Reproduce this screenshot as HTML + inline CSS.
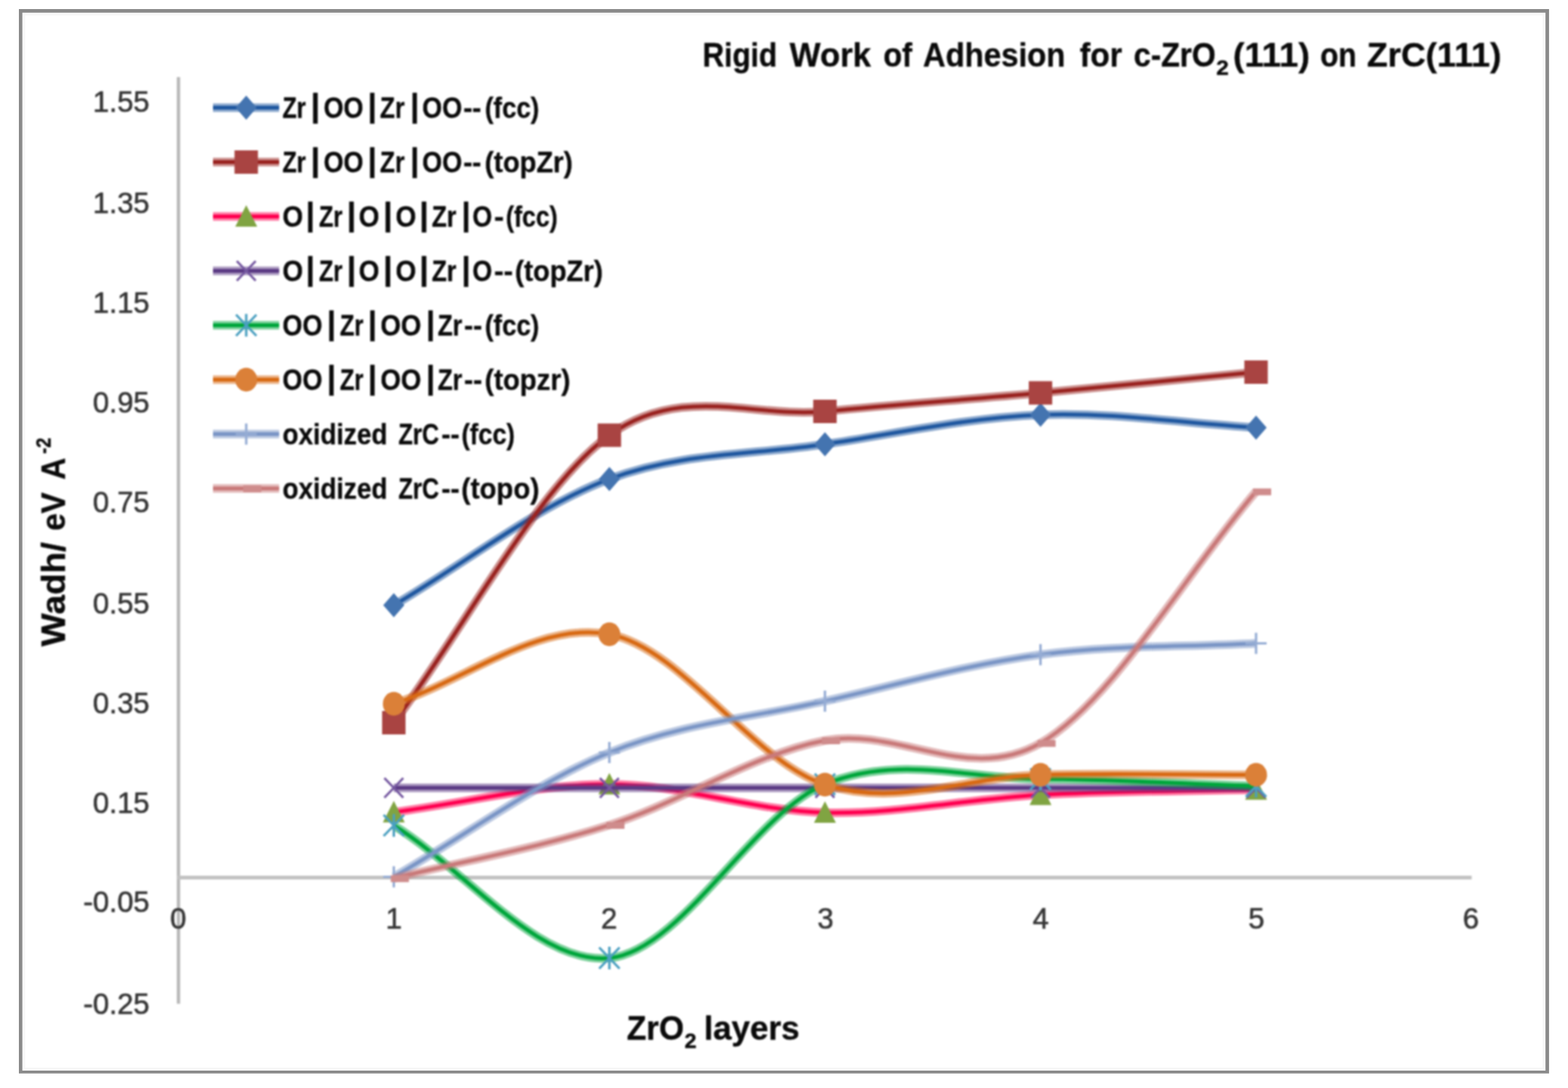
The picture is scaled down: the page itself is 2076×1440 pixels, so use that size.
<!DOCTYPE html>
<html lang="en"><head><meta charset="utf-8"><title>Rigid Work of Adhesion for c-ZrO2(111) on ZrC(111)</title>
<style>
html,body{margin:0;padding:0;background:#fff;}
body{width:2076px;height:1440px;overflow:hidden;}
svg{display:block;}
text{font-family:"Liberation Sans",sans-serif;}
.b{font-weight:bold;fill:#0a0a0a;stroke:#0a0a0a;stroke-width:0.4px;stroke-linejoin:round;}
.t{fill:#363636;stroke:#363636;stroke-width:0.7px;}
</style></head><body>
<svg width="2076" height="1440" viewBox="0 0 2076 1440" role="img" aria-label="Rigid Work of Adhesion for c-ZrO2(111) on ZrC(111)">
<defs><filter id="soft" x="0" y="0" width="100%" height="100%" filterUnits="userSpaceOnUse" color-interpolation-filters="sRGB"><feGaussianBlur stdDeviation="1.2"/></filter><filter id="soft2" x="0" y="0" width="100%" height="100%" filterUnits="userSpaceOnUse" color-interpolation-filters="sRGB"><feGaussianBlur stdDeviation="0.45"/></filter></defs>
<rect x="0" y="0" width="2076" height="1440" fill="#fff"/>
<g filter="url(#soft)">
<rect x="0" y="0" width="2076" height="1440" fill="#fff"/>
<line x1="236.3" y1="102" x2="236.3" y2="1328.5" stroke="#b8b8b8" stroke-width="4.4"/>
<line x1="234" y1="1161.5" x2="1948.5" y2="1161.5" stroke="#c2c2c2" stroke-width="5"/>
<text class="t" x="198" y="148.0" font-size="38.5" text-anchor="end">1.55</text>
<text class="t" x="198" y="282.3" font-size="38.5" text-anchor="end">1.35</text>
<text class="t" x="198" y="414.0" font-size="38.5" text-anchor="end">1.15</text>
<text class="t" x="198" y="546.2" font-size="38.5" text-anchor="end">0.95</text>
<text class="t" x="198" y="677.7" font-size="38.5" text-anchor="end">0.75</text>
<text class="t" x="198" y="811.6" font-size="38.5" text-anchor="end">0.55</text>
<text class="t" x="198" y="943.8" font-size="38.5" text-anchor="end">0.35</text>
<text class="t" x="198" y="1075.7" font-size="38.5" text-anchor="end">0.15</text>
<text class="t" x="198" y="1206.7" font-size="38.5" text-anchor="end">-0.05</text>
<text class="t" x="198" y="1341.5" font-size="38.5" text-anchor="end">-0.25</text>
<text class="t" x="236.0" y="1228.6" font-size="38.5" text-anchor="middle">0</text>
<text class="t" x="521.5" y="1228.6" font-size="38.5" text-anchor="middle">1</text>
<text class="t" x="806.5" y="1228.6" font-size="38.5" text-anchor="middle">2</text>
<text class="t" x="1093.0" y="1228.6" font-size="38.5" text-anchor="middle">3</text>
<text class="t" x="1378.0" y="1228.6" font-size="38.5" text-anchor="middle">4</text>
<text class="t" x="1663.5" y="1228.6" font-size="38.5" text-anchor="middle">5</text>
<text class="t" x="1947.5" y="1228.6" font-size="38.5" text-anchor="middle">6</text>
<path d="M521.4,801.0 C616.5,745.3 711.7,669.5 806.8,634.0 C901.9,598.5 997.1,602.2 1092.2,588.0 C1187.3,573.8 1282.5,552.7 1377.6,549.0 C1472.7,545.3 1567.9,560.3 1663.0,566.0" fill="none" stroke="#2058a0" stroke-opacity="0.50" stroke-width="11.5" stroke-linejoin="round"/><path d="M521.4,801.0 C616.5,745.3 711.7,669.5 806.8,634.0 C901.9,598.5 997.1,602.2 1092.2,588.0 C1187.3,573.8 1282.5,552.7 1377.6,549.0 C1472.7,545.3 1567.9,560.3 1663.0,566.0" fill="none" stroke="#2058a0" stroke-width="5.0" stroke-linejoin="round"/>
<polygon points="507.4,801.0 521.4,785.0 535.4,801.0 521.4,817.0" fill="#4474b0"/>
<polygon points="792.8,634.0 806.8,618.0 820.8,634.0 806.8,650.0" fill="#4474b0"/>
<polygon points="1078.2,588.0 1092.2,572.0 1106.2,588.0 1092.2,604.0" fill="#4474b0"/>
<polygon points="1363.6,549.0 1377.6,533.0 1391.6,549.0 1377.6,565.0" fill="#4474b0"/>
<polygon points="1649.0,566.0 1663.0,550.0 1677.0,566.0 1663.0,582.0" fill="#4474b0"/>
<path d="M521.4,956.5 C616.5,829.7 711.7,644.7 806.8,576.0 C901.9,507.3 997.1,553.8 1092.2,544.5 C1187.3,535.2 1282.5,528.7 1377.6,520.0 C1472.7,511.3 1567.9,501.7 1663.0,492.5" fill="none" stroke="#9a2320" stroke-opacity="0.50" stroke-width="11.5" stroke-linejoin="round"/><path d="M521.4,956.5 C616.5,829.7 711.7,644.7 806.8,576.0 C901.9,507.3 997.1,553.8 1092.2,544.5 C1187.3,535.2 1282.5,528.7 1377.6,520.0 C1472.7,511.3 1567.9,501.7 1663.0,492.5" fill="none" stroke="#9a2320" stroke-width="5.0" stroke-linejoin="round"/>
<rect x="505.9" y="941.0" width="31.0" height="31.0" fill="#a94442"/>
<rect x="791.3" y="560.5" width="31.0" height="31.0" fill="#a94442"/>
<rect x="1076.7" y="529.0" width="31.0" height="31.0" fill="#a94442"/>
<rect x="1362.1" y="504.5" width="31.0" height="31.0" fill="#a94442"/>
<rect x="1647.5" y="477.0" width="31.0" height="31.0" fill="#a94442"/>
<path d="M521.4,1075.0 C616.5,1062.7 711.7,1037.9 806.8,1038.0 C901.9,1038.1 997.1,1073.2 1092.2,1075.5 C1187.3,1077.8 1282.5,1057.1 1377.6,1052.0 C1472.7,1046.9 1567.9,1047.3 1663.0,1045.0" fill="none" stroke="#ff0050" stroke-opacity="0.50" stroke-width="11.5" stroke-linejoin="round"/><path d="M521.4,1075.0 C616.5,1062.7 711.7,1037.9 806.8,1038.0 C901.9,1038.1 997.1,1073.2 1092.2,1075.5 C1187.3,1077.8 1282.5,1057.1 1377.6,1052.0 C1472.7,1046.9 1567.9,1047.3 1663.0,1045.0" fill="none" stroke="#ff0050" stroke-width="5.0" stroke-linejoin="round"/>
<polygon points="521.4,1060.0 535.9,1088.5 506.9,1088.5" fill="#80a442"/>
<polygon points="806.8,1023.0 821.3,1051.5 792.3,1051.5" fill="#80a442"/>
<polygon points="1092.2,1060.5 1106.7,1089.0 1077.7,1089.0" fill="#80a442"/>
<polygon points="1377.6,1037.0 1392.1,1065.5 1363.1,1065.5" fill="#80a442"/>
<polygon points="1663.0,1030.0 1677.5,1058.5 1648.5,1058.5" fill="#80a442"/>
<path d="M521.4,1042.8 C616.5,1042.8 711.7,1042.8 806.8,1042.8 C901.9,1042.8 997.1,1042.8 1092.2,1042.8 C1187.3,1042.8 1282.5,1042.8 1377.6,1042.8 C1472.7,1042.8 1567.9,1042.8 1663.0,1042.8" fill="none" stroke="#5b3a84" stroke-opacity="0.50" stroke-width="11.5" stroke-linejoin="round"/><path d="M521.4,1042.8 C616.5,1042.8 711.7,1042.8 806.8,1042.8 C901.9,1042.8 997.1,1042.8 1092.2,1042.8 C1187.3,1042.8 1282.5,1042.8 1377.6,1042.8 C1472.7,1042.8 1567.9,1042.8 1663.0,1042.8" fill="none" stroke="#5b3a84" stroke-width="5.0" stroke-linejoin="round"/>
<path d="M508.9,1029.8 L533.9,1055.8 M508.9,1055.8 L533.9,1029.8" stroke="#7558a0" stroke-width="3.1" fill="none"/>
<path d="M794.3,1029.8 L819.3,1055.8 M794.3,1055.8 L819.3,1029.8" stroke="#7558a0" stroke-width="3.1" fill="none"/>
<path d="M1079.7,1029.8 L1104.7,1055.8 M1079.7,1055.8 L1104.7,1029.8" stroke="#7558a0" stroke-width="3.1" fill="none"/>
<path d="M1365.1,1029.8 L1390.1,1055.8 M1365.1,1055.8 L1390.1,1029.8" stroke="#7558a0" stroke-width="3.1" fill="none"/>
<path d="M1650.5,1029.8 L1675.5,1055.8 M1650.5,1055.8 L1675.5,1029.8" stroke="#7558a0" stroke-width="3.1" fill="none"/>
<path d="M521.4,1092.5 C616.5,1151.0 711.7,1277.1 806.8,1268.0 C901.9,1258.9 997.1,1077.5 1092.2,1038.0 C1187.3,998.5 1282.5,1030.6 1377.6,1031.0 C1472.7,1031.4 1567.9,1037.3 1663.0,1040.5" fill="none" stroke="#00a63c" stroke-opacity="0.50" stroke-width="11.5" stroke-linejoin="round"/><path d="M521.4,1092.5 C616.5,1151.0 711.7,1277.1 806.8,1268.0 C901.9,1258.9 997.1,1077.5 1092.2,1038.0 C1187.3,998.5 1282.5,1030.6 1377.6,1031.0 C1472.7,1031.4 1567.9,1037.3 1663.0,1040.5" fill="none" stroke="#00a63c" stroke-width="5.0" stroke-linejoin="round"/>
<path d="M507.9,1078.5 L534.9,1106.5 M507.9,1106.5 L534.9,1078.5 M521.4,1077.5 L521.4,1107.5" stroke="#4a9fc0" stroke-width="3.2" fill="none"/>
<path d="M793.3,1254.0 L820.3,1282.0 M793.3,1282.0 L820.3,1254.0 M806.8,1253.0 L806.8,1283.0" stroke="#4a9fc0" stroke-width="3.2" fill="none"/>
<path d="M1078.7,1024.0 L1105.7,1052.0 M1078.7,1052.0 L1105.7,1024.0 M1092.2,1023.0 L1092.2,1053.0" stroke="#4a9fc0" stroke-width="3.2" fill="none"/>
<path d="M1364.1,1017.0 L1391.1,1045.0 M1364.1,1045.0 L1391.1,1017.0 M1377.6,1016.0 L1377.6,1046.0" stroke="#4a9fc0" stroke-width="3.2" fill="none"/>
<path d="M1649.5,1026.5 L1676.5,1054.5 M1649.5,1054.5 L1676.5,1026.5 M1663.0,1025.5 L1663.0,1055.5" stroke="#4a9fc0" stroke-width="3.2" fill="none"/>
<path d="M521.4,931.5 C616.5,900.8 711.7,821.7 806.8,839.5 C901.9,857.3 997.1,1007.5 1092.2,1038.5 C1187.3,1069.5 1282.5,1027.7 1377.6,1025.5 C1472.7,1023.3 1567.9,1025.5 1663.0,1025.5" fill="none" stroke="#d86a14" stroke-opacity="0.50" stroke-width="11.5" stroke-linejoin="round"/><path d="M521.4,931.5 C616.5,900.8 711.7,821.7 806.8,839.5 C901.9,857.3 997.1,1007.5 1092.2,1038.5 C1187.3,1069.5 1282.5,1027.7 1377.6,1025.5 C1472.7,1023.3 1567.9,1025.5 1663.0,1025.5" fill="none" stroke="#d86a14" stroke-width="5.0" stroke-linejoin="round"/>
<ellipse cx="521.4" cy="931.5" rx="14.5" ry="15.7" fill="#db8038"/>
<ellipse cx="806.8" cy="839.5" rx="14.5" ry="15.7" fill="#db8038"/>
<ellipse cx="1092.2" cy="1038.5" rx="14.5" ry="15.7" fill="#db8038"/>
<ellipse cx="1377.6" cy="1025.5" rx="14.5" ry="15.7" fill="#db8038"/>
<ellipse cx="1663.0" cy="1025.5" rx="14.5" ry="15.7" fill="#db8038"/>
<path d="M521.4,1160.5 C616.5,1105.7 711.7,1034.8 806.8,996.0 C901.9,957.2 997.1,949.6 1092.2,928.0 C1187.3,906.4 1282.5,879.2 1377.6,866.5 C1472.7,853.8 1567.9,856.5 1663.0,851.5" fill="none" stroke="#7b96c6" stroke-opacity="0.50" stroke-width="11.5" stroke-linejoin="round"/><path d="M521.4,1160.5 C616.5,1105.7 711.7,1034.8 806.8,996.0 C901.9,957.2 997.1,949.6 1092.2,928.0 C1187.3,906.4 1282.5,879.2 1377.6,866.5 C1472.7,853.8 1567.9,856.5 1663.0,851.5" fill="none" stroke="#7b96c6" stroke-width="5.0" stroke-linejoin="round"/>
<path d="M507.4,1160.5 L535.4,1160.5 M521.4,1146.5 L521.4,1174.5" stroke="#95acd4" stroke-width="3.2" fill="none"/>
<path d="M792.8,996.0 L820.8,996.0 M806.8,982.0 L806.8,1010.0" stroke="#95acd4" stroke-width="3.2" fill="none"/>
<path d="M1078.2,928.0 L1106.2,928.0 M1092.2,914.0 L1092.2,942.0" stroke="#95acd4" stroke-width="3.2" fill="none"/>
<path d="M1363.6,866.5 L1391.6,866.5 M1377.6,852.5 L1377.6,880.5" stroke="#95acd4" stroke-width="3.2" fill="none"/>
<path d="M1649.0,851.5 L1677.0,851.5 M1663.0,837.5 L1663.0,865.5" stroke="#95acd4" stroke-width="3.2" fill="none"/>
<path d="M521.4,1162.5 C616.5,1139.0 711.7,1122.4 806.8,1092.0 C901.9,1061.6 997.1,998.1 1092.2,980.0 C1187.3,961.9 1282.5,1038.4 1377.6,983.5 C1472.7,928.6 1567.9,761.5 1663.0,650.5" fill="none" stroke="#c97a7a" stroke-opacity="0.50" stroke-width="11.5" stroke-linejoin="round"/><path d="M521.4,1162.5 C616.5,1139.0 711.7,1122.4 806.8,1092.0 C901.9,1061.6 997.1,998.1 1092.2,980.0 C1187.3,961.9 1282.5,1038.4 1377.6,983.5 C1472.7,928.6 1567.9,761.5 1663.0,650.5" fill="none" stroke="#c97a7a" stroke-width="5.0" stroke-linejoin="round"/>
<rect x="517.4" y="1158.5" width="24.0" height="9.0" fill="#cf8c8c"/>
<rect x="802.8" y="1088.0" width="24.0" height="9.0" fill="#cf8c8c"/>
<rect x="1088.2" y="976.0" width="24.0" height="9.0" fill="#cf8c8c"/>
<rect x="1373.6" y="979.5" width="24.0" height="9.0" fill="#cf8c8c"/>
<rect x="1659.0" y="646.5" width="24.0" height="9.0" fill="#cf8c8c"/>
<path d="M282,142.5 L369.5,142.5" fill="none" stroke="#2058a0" stroke-opacity="0.50" stroke-width="11.5" stroke-linejoin="round"/><path d="M282,142.5 L369.5,142.5" fill="none" stroke="#2058a0" stroke-width="5.0" stroke-linejoin="round"/>
<polygon points="312.0,142.5 326.0,126.5 340.0,142.5 326.0,158.5" fill="#4474b0"/>
<text class="b" font-size="38.0" xml:space="preserve" style="white-space:pre"><tspan x="373.9" y="155.5" textLength="30.9" lengthAdjust="spacingAndGlyphs">Zr</tspan><tspan x="411.5" y="154.0" font-size="43.3" textLength="12.2" lengthAdjust="spacingAndGlyphs">|</tspan><tspan x="428.4" y="155.5" textLength="52.7" lengthAdjust="spacingAndGlyphs">OO</tspan><tspan x="486.8" y="154.0" font-size="43.3" textLength="12.2" lengthAdjust="spacingAndGlyphs">|</tspan><tspan x="503.0" y="155.5" textLength="32.6" lengthAdjust="spacingAndGlyphs">Zr</tspan><tspan x="543.1" y="154.0" font-size="43.3" textLength="12.2" lengthAdjust="spacingAndGlyphs">|</tspan><tspan x="559.1" y="155.5" textLength="52.7" lengthAdjust="spacingAndGlyphs">OO</tspan><tspan x="613.4" y="155.5" textLength="23.9" lengthAdjust="spacingAndGlyphs">--</tspan><tspan x="641.9" y="155.5" textLength="72.1" lengthAdjust="spacingAndGlyphs">(fcc)</tspan></text>
<path d="M282,214.5 L369.5,214.5" fill="none" stroke="#9a2320" stroke-opacity="0.50" stroke-width="11.5" stroke-linejoin="round"/><path d="M282,214.5 L369.5,214.5" fill="none" stroke="#9a2320" stroke-width="5.0" stroke-linejoin="round"/>
<rect x="310.5" y="199.0" width="31.0" height="31.0" fill="#a94442"/>
<text class="b" font-size="38.0" xml:space="preserve" style="white-space:pre"><tspan x="373.9" y="227.5" textLength="30.9" lengthAdjust="spacingAndGlyphs">Zr</tspan><tspan x="411.5" y="226.0" font-size="43.3" textLength="12.2" lengthAdjust="spacingAndGlyphs">|</tspan><tspan x="428.4" y="227.5" textLength="52.7" lengthAdjust="spacingAndGlyphs">OO</tspan><tspan x="486.8" y="226.0" font-size="43.3" textLength="12.2" lengthAdjust="spacingAndGlyphs">|</tspan><tspan x="503.0" y="227.5" textLength="32.6" lengthAdjust="spacingAndGlyphs">Zr</tspan><tspan x="543.1" y="226.0" font-size="43.3" textLength="12.2" lengthAdjust="spacingAndGlyphs">|</tspan><tspan x="559.1" y="227.5" textLength="52.7" lengthAdjust="spacingAndGlyphs">OO</tspan><tspan x="613.4" y="227.5" textLength="23.9" lengthAdjust="spacingAndGlyphs">--</tspan><tspan x="641.8" y="227.5" textLength="116.6" lengthAdjust="spacingAndGlyphs">(topZr)</tspan></text>
<path d="M282,286.5 L369.5,286.5" fill="none" stroke="#ff0050" stroke-opacity="0.50" stroke-width="11.5" stroke-linejoin="round"/><path d="M282,286.5 L369.5,286.5" fill="none" stroke="#ff0050" stroke-width="5.0" stroke-linejoin="round"/>
<polygon points="326.0,271.5 340.5,300.0 311.5,300.0" fill="#80a442"/>
<text class="b" font-size="38.0" xml:space="preserve" style="white-space:pre"><tspan x="374.1" y="299.5" textLength="27.3" lengthAdjust="spacingAndGlyphs">O</tspan><tspan x="404.8" y="298.0" font-size="43.3" textLength="12.2" lengthAdjust="spacingAndGlyphs">|</tspan><tspan x="422.2" y="299.5" textLength="31.4" lengthAdjust="spacingAndGlyphs">Zr</tspan><tspan x="459.3" y="298.0" font-size="43.3" textLength="12.2" lengthAdjust="spacingAndGlyphs">|</tspan><tspan x="474.9" y="299.5" textLength="27.3" lengthAdjust="spacingAndGlyphs">O</tspan><tspan x="507.6" y="298.0" font-size="43.3" textLength="12.2" lengthAdjust="spacingAndGlyphs">|</tspan><tspan x="523.7" y="299.5" textLength="27.3" lengthAdjust="spacingAndGlyphs">O</tspan><tspan x="555.3" y="298.0" font-size="43.3" textLength="12.2" lengthAdjust="spacingAndGlyphs">|</tspan><tspan x="571.7" y="299.5" textLength="32.5" lengthAdjust="spacingAndGlyphs">Zr</tspan><tspan x="611.1" y="298.0" font-size="43.3" textLength="12.2" lengthAdjust="spacingAndGlyphs">|</tspan><tspan x="625.6" y="299.5" textLength="26.1" lengthAdjust="spacingAndGlyphs">O</tspan><tspan x="654.3" y="299.5" textLength="13.1" lengthAdjust="spacingAndGlyphs">-</tspan><tspan x="669.7" y="299.5" textLength="68.6" lengthAdjust="spacingAndGlyphs">(fcc)</tspan></text>
<path d="M282,358.5 L369.5,358.5" fill="none" stroke="#5b3a84" stroke-opacity="0.50" stroke-width="11.5" stroke-linejoin="round"/><path d="M282,358.5 L369.5,358.5" fill="none" stroke="#5b3a84" stroke-width="5.0" stroke-linejoin="round"/>
<path d="M313.5,345.5 L338.5,371.5 M313.5,371.5 L338.5,345.5" stroke="#7558a0" stroke-width="3.1" fill="none"/>
<text class="b" font-size="38.0" xml:space="preserve" style="white-space:pre"><tspan x="374.1" y="371.5" textLength="27.3" lengthAdjust="spacingAndGlyphs">O</tspan><tspan x="404.8" y="370.0" font-size="43.3" textLength="12.2" lengthAdjust="spacingAndGlyphs">|</tspan><tspan x="422.2" y="371.5" textLength="31.4" lengthAdjust="spacingAndGlyphs">Zr</tspan><tspan x="459.3" y="370.0" font-size="43.3" textLength="12.2" lengthAdjust="spacingAndGlyphs">|</tspan><tspan x="474.9" y="371.5" textLength="27.3" lengthAdjust="spacingAndGlyphs">O</tspan><tspan x="507.6" y="370.0" font-size="43.3" textLength="12.2" lengthAdjust="spacingAndGlyphs">|</tspan><tspan x="523.7" y="371.5" textLength="27.3" lengthAdjust="spacingAndGlyphs">O</tspan><tspan x="555.3" y="370.0" font-size="43.3" textLength="12.2" lengthAdjust="spacingAndGlyphs">|</tspan><tspan x="571.7" y="371.5" textLength="32.5" lengthAdjust="spacingAndGlyphs">Zr</tspan><tspan x="611.1" y="370.0" font-size="43.3" textLength="12.2" lengthAdjust="spacingAndGlyphs">|</tspan><tspan x="625.6" y="371.5" textLength="26.1" lengthAdjust="spacingAndGlyphs">O</tspan><tspan x="654.3" y="371.5" textLength="25.1" lengthAdjust="spacingAndGlyphs">--</tspan><tspan x="681.7" y="371.5" textLength="116.6" lengthAdjust="spacingAndGlyphs">(topZr)</tspan></text>
<path d="M282,430.5 L369.5,430.5" fill="none" stroke="#00a63c" stroke-opacity="0.50" stroke-width="11.5" stroke-linejoin="round"/><path d="M282,430.5 L369.5,430.5" fill="none" stroke="#00a63c" stroke-width="5.0" stroke-linejoin="round"/>
<path d="M312.5,416.5 L339.5,444.5 M312.5,444.5 L339.5,416.5 M326.0,415.5 L326.0,445.5" stroke="#4a9fc0" stroke-width="3.2" fill="none"/>
<text class="b" font-size="38.0" xml:space="preserve" style="white-space:pre"><tspan x="374.1" y="443.5" textLength="52.7" lengthAdjust="spacingAndGlyphs">OO</tspan><tspan x="432.7" y="442.0" font-size="43.3" textLength="12.2" lengthAdjust="spacingAndGlyphs">|</tspan><tspan x="449.9" y="443.5" textLength="31.4" lengthAdjust="spacingAndGlyphs">Zr</tspan><tspan x="487.0" y="442.0" font-size="43.3" textLength="12.2" lengthAdjust="spacingAndGlyphs">|</tspan><tspan x="503.7" y="443.5" textLength="53.9" lengthAdjust="spacingAndGlyphs">OO</tspan><tspan x="564.0" y="442.0" font-size="43.3" textLength="12.2" lengthAdjust="spacingAndGlyphs">|</tspan><tspan x="579.5" y="443.5" textLength="32.5" lengthAdjust="spacingAndGlyphs">Zr</tspan><tspan x="614.5" y="443.5" textLength="23.8" lengthAdjust="spacingAndGlyphs">--</tspan><tspan x="641.9" y="443.5" textLength="72.1" lengthAdjust="spacingAndGlyphs">(fcc)</tspan></text>
<path d="M282,502.5 L369.5,502.5" fill="none" stroke="#d86a14" stroke-opacity="0.50" stroke-width="11.5" stroke-linejoin="round"/><path d="M282,502.5 L369.5,502.5" fill="none" stroke="#d86a14" stroke-width="5.0" stroke-linejoin="round"/>
<ellipse cx="326.0" cy="502.5" rx="14.5" ry="15.7" fill="#db8038"/>
<text class="b" font-size="38.0" xml:space="preserve" style="white-space:pre"><tspan x="374.1" y="515.5" textLength="52.7" lengthAdjust="spacingAndGlyphs">OO</tspan><tspan x="432.7" y="514.0" font-size="43.3" textLength="12.2" lengthAdjust="spacingAndGlyphs">|</tspan><tspan x="449.9" y="515.5" textLength="31.4" lengthAdjust="spacingAndGlyphs">Zr</tspan><tspan x="487.0" y="514.0" font-size="43.3" textLength="12.2" lengthAdjust="spacingAndGlyphs">|</tspan><tspan x="503.7" y="515.5" textLength="53.9" lengthAdjust="spacingAndGlyphs">OO</tspan><tspan x="564.0" y="514.0" font-size="43.3" textLength="12.2" lengthAdjust="spacingAndGlyphs">|</tspan><tspan x="579.5" y="515.5" textLength="32.5" lengthAdjust="spacingAndGlyphs">Zr</tspan><tspan x="614.5" y="515.5" textLength="23.8" lengthAdjust="spacingAndGlyphs">--</tspan><tspan x="641.8" y="515.5" textLength="113.3" lengthAdjust="spacingAndGlyphs">(topzr)</tspan></text>
<path d="M282,574.5 L369.5,574.5" fill="none" stroke="#7b96c6" stroke-opacity="0.50" stroke-width="11.5" stroke-linejoin="round"/><path d="M282,574.5 L369.5,574.5" fill="none" stroke="#7b96c6" stroke-width="5.0" stroke-linejoin="round"/>
<path d="M312.0,574.5 L340.0,574.5 M326.0,560.5 L326.0,588.5" stroke="#95acd4" stroke-width="3.2" fill="none"/>
<text class="b" font-size="38.0" xml:space="preserve" style="white-space:pre"><tspan x="374.1" y="587.5" textLength="148.4" lengthAdjust="spacingAndGlyphs">oxidized </tspan><tspan x="527.5" y="587.5" textLength="53.9" lengthAdjust="spacingAndGlyphs">ZrC</tspan><tspan x="584.6" y="587.5" textLength="23.9" lengthAdjust="spacingAndGlyphs">--</tspan><tspan x="610.9" y="587.5" textLength="70.9" lengthAdjust="spacingAndGlyphs">(fcc)</tspan></text>
<path d="M282,646.5 L369.5,646.5" fill="none" stroke="#c97a7a" stroke-opacity="0.50" stroke-width="11.5" stroke-linejoin="round"/><path d="M282,646.5 L369.5,646.5" fill="none" stroke="#c97a7a" stroke-width="5.0" stroke-linejoin="round"/>
<rect x="322.0" y="642.5" width="24.0" height="9.0" fill="#cf8c8c"/>
<text class="b" font-size="38.0" xml:space="preserve" style="white-space:pre"><tspan x="374.1" y="659.5" textLength="148.4" lengthAdjust="spacingAndGlyphs">oxidized </tspan><tspan x="527.5" y="659.5" textLength="53.9" lengthAdjust="spacingAndGlyphs">ZrC</tspan><tspan x="584.6" y="659.5" textLength="23.9" lengthAdjust="spacingAndGlyphs">--</tspan><tspan x="610.8" y="659.5" textLength="103.3" lengthAdjust="spacingAndGlyphs">(topo)</tspan></text>
<text class="b" font-size="44.0" xml:space="preserve" style="white-space:pre"><tspan x="930.3" y="88.0" textLength="109.6" lengthAdjust="spacingAndGlyphs">Rigid </tspan><tspan x="1045.6" y="88.0" textLength="119.7" lengthAdjust="spacingAndGlyphs">Work </tspan><tspan x="1169.5" y="88.0" textLength="49.7" lengthAdjust="spacingAndGlyphs">of </tspan><tspan x="1222.1" y="88.0" textLength="199.8" lengthAdjust="spacingAndGlyphs">Adhesion </tspan><tspan x="1429.4" y="88.0" textLength="67.9" lengthAdjust="spacingAndGlyphs">for </tspan><tspan x="1501.0" y="88.0" textLength="108.6" lengthAdjust="spacingAndGlyphs">c-ZrO</tspan><tspan x="1610.2" y="98.5" font-size="27.0" textLength="16.7" lengthAdjust="spacingAndGlyphs">2</tspan><tspan x="1632.4" y="88.0" textLength="114.7" lengthAdjust="spacingAndGlyphs">(111) </tspan><tspan x="1748.0" y="88.0" textLength="58.8" lengthAdjust="spacingAndGlyphs">on </tspan><tspan x="1809.8" y="88.0" textLength="178.1" lengthAdjust="spacingAndGlyphs">ZrC(111)</tspan></text>
<text class="b" font-size="44.0" xml:space="preserve" style="white-space:pre"><tspan x="829.8" y="1376.2" textLength="75.9" lengthAdjust="spacingAndGlyphs">ZrO</tspan><tspan x="906.2" y="1387.0" font-size="27.0" textLength="24.0" lengthAdjust="spacingAndGlyphs">2 </tspan><tspan x="932.0" y="1376.2" textLength="126.7" lengthAdjust="spacingAndGlyphs">layers</tspan></text>
<g transform="translate(85.5,0) rotate(-90)">
<text class="b" font-size="44.0" xml:space="preserve" style="white-space:pre"><tspan x="-855.4" y="0.0" textLength="150.7" lengthAdjust="spacingAndGlyphs">Wadh/ </tspan><tspan x="-702.6" y="0.0" textLength="62.5" lengthAdjust="spacingAndGlyphs">eV </tspan><tspan x="-634.7" y="0.0" textLength="28.8" lengthAdjust="spacingAndGlyphs">A</tspan><tspan x="-600.8" y="-19.0" font-size="27.0" textLength="21.7" lengthAdjust="spacingAndGlyphs">-2</tspan></text>
</g>
</g>
<g filter="url(#soft2)"><path fill-rule="evenodd" fill="#f7f7f7" d="M29.6,16.7 H2046.2 V1416.9 H29.6 Z M33.4,20.5 V1413.1 H2042.4 V20.5 Z"/><path fill-rule="evenodd" fill="#8a8a8a" d="M25,12.1 H2050.9 V1420.7 H25 Z M29.6,16.7 V1416.9 H2046.2 V16.7 Z"/></g>
</svg>
</body></html>
